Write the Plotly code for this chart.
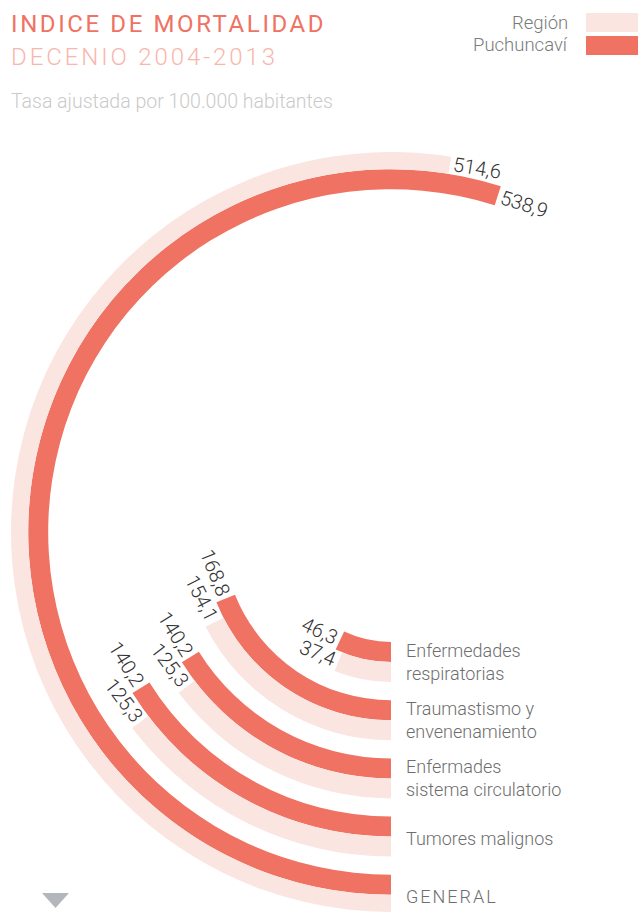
import math
import plotly.graph_objects as go

# ---------------- data ----------------
categories = ["Enfermedades<br>respiratorias", "Traumastismo y<br>envenenamiento",
              "Enfermades<br>sistema circulatorio", "Tumores malignos", "GENERAL"]
puchuncavi = [46.3, 168.8, 140.2, 140.2, 538.9]
region = [37.4, 154.1, 125.3, 125.3, 514.6]
series_names = ["Región", "Puchuncaví"]

# ---------------- layout constants ----------------
W, H = 638, 912
CX, CY = 391, 532          # centre of the rings (px)
R_MAX = 380                # radial range (px units)
R0, PITCH, BAR = 110, 58.2, 20
ANG0, DEG_PER_UNIT = 9.0, 0.35   # angular scale: theta = ANG0 + value*DEG_PER_UNIT

COL_P = "#F07262"
COL_R = "#FAE5E1"
FONT = "Roboto, 'Open Sans', sans-serif"


def angle(v):
    return ANG0 + v * DEG_PER_UNIT


def fmt(v):
    return f"{v:.1f}".replace(".", ",")


inner_p = [R0 + PITCH * i for i in range(len(categories))]
inner_r = [r + BAR for r in inner_p]

fig = go.Figure()
for name, vals, base, col in [("Puchuncaví", puchuncavi, inner_p, COL_P),
                               ("Región", region, inner_r, COL_R)]:
    th = [angle(v) for v in vals]
    fig.add_trace(go.Barpolar(
        name=name, r=[BAR] * len(vals), base=base,
        theta=[t / 2 for t in th], width=th,
        marker=dict(color=col, line=dict(width=0)),
        customdata=vals, hovertemplate="%{customdata}<extra>" + name + "</extra>",
        showlegend=False))

fig.update_layout(
    width=W, height=H, margin=dict(l=0, r=0, t=0, b=0),
    paper_bgcolor="white", plot_bgcolor="white",
    polar=dict(
        domain=dict(x=[(CX - R_MAX) / W, (CX + 0.5 * R_MAX) / W],
                    y=[1 - (CY + R_MAX) / H, 1 - (CY - R_MAX) / H]),
        sector=[60, 270],
        bgcolor="rgba(0,0,0,0)",
        radialaxis=dict(range=[0, R_MAX], visible=False, showgrid=False, showline=False),
        angularaxis=dict(direction="clockwise", rotation=270, visible=False,
                         showgrid=False, showline=False, showticklabels=False, ticks=""),
        bargap=0,
    ),
)


def px(x, y):
    return x / W, 1 - y / H


anns = []
# value labels at the end of each arc
VFS = 20
for vals, base in [(puchuncavi, inner_p), (region, inner_r)]:
    for v, b in zip(vals, base):
        th = angle(v)
        rm = b + BAR / 2
        t = math.radians(th)
        ex, ey = CX - rm * math.sin(t), CY + rm * math.cos(t)
        tx, ty = -math.cos(t), -math.sin(t)
        txt = fmt(v)
        L = (len(txt) - 1) * 0.56 * VFS + 0.22 * VFS
        d = 3 + L / 2
        cx, cy = ex + d * tx, ey + d * ty
        rot = th if th < 180 else th - 180
        x, y = px(cx, cy)
        anns.append(dict(x=x, y=y, xref="paper", yref="paper", text=txt, showarrow=False,
                         textangle=rot, xanchor="center", yanchor="middle",
                         font=dict(family=FONT, size=VFS, color="#333333", weight=300)))

# category labels (each line aligned with a bar)
CFS = 18
for cat, bp, br in zip(categories, inner_p, inner_r):
    lines = cat.split("<br>")
    if len(lines) == 2:
        ys = [CY + bp + BAR / 2 - 1.5, CY + br + BAR / 2 + 1]
    else:
        ys = [CY + br + 2]
    for ln, yy in zip(lines, ys):
        if ln == "GENERAL":
            ln = '<span style="letter-spacing:2px">GENERAL</span>'
        x, y = px(404, yy)
        anns.append(dict(x=x, y=y, xref="paper", yref="paper", text=ln, showarrow=False,
                         xanchor="left", yanchor="middle", align="left",
                         font=dict(family=FONT, size=CFS, color="#6E6E6E", weight=300)))

# titles
anns.append(dict(x=px(9, 24)[0], y=px(9, 24)[1], xref="paper", yref="paper",
                 text='<span style="letter-spacing:2.6px">INDICE DE MORTALIDAD</span>',
                 showarrow=False, xanchor="left", yanchor="middle",
                 font=dict(family=FONT, size=24, color="#F07262", weight=400)))
anns.append(dict(x=px(9, 57)[0], y=px(9, 57)[1], xref="paper", yref="paper",
                 text='<span style="letter-spacing:2.9px">DECENIO 2004-2013</span>',
                 showarrow=False, xanchor="left", yanchor="middle",
                 font=dict(family=FONT, size=24, color="#F8B7AB", weight=300)))
anns.append(dict(x=px(9, 101)[0], y=px(9, 101)[1], xref="paper", yref="paper",
                 text="Tasa ajustada por 100.000 habitantes",
                 showarrow=False, xanchor="left", yanchor="middle",
                 font=dict(family=FONT, size=19.5, color="#CACACA", weight=300)))

# legend
shapes = []
for i, (name, col) in enumerate([("Región", COL_R), ("Puchuncaví", COL_P)]):
    y0, y1 = 13 + 23 * i, 32 + 23 * i
    shapes.append(dict(type="rect", xref="paper", yref="paper",
                       x0=586 / W, x1=1, y0=1 - y1 / H, y1=1 - y0 / H,
                       fillcolor=col, line=dict(width=0)))
    x, y = px(570, (y0 + y1) / 2)
    anns.append(dict(x=x, y=y, xref="paper", yref="paper", text=name, showarrow=False,
                     xanchor="right", yanchor="middle",
                     font=dict(family=FONT, size=18.5, color="#7A7A7A", weight=300)))

# scroll arrow
shapes.append(dict(type="path", xref="paper", yref="paper",
                   path=f"M {42/W},{1-893/H} L {69/W},{1-893/H} L {55.5/W},{1-908/H} Z",
                   fillcolor="#B3B6BA", line=dict(width=0)))

fig.update_layout(annotations=anns, shapes=shapes)
fig.write_html("out.html")
